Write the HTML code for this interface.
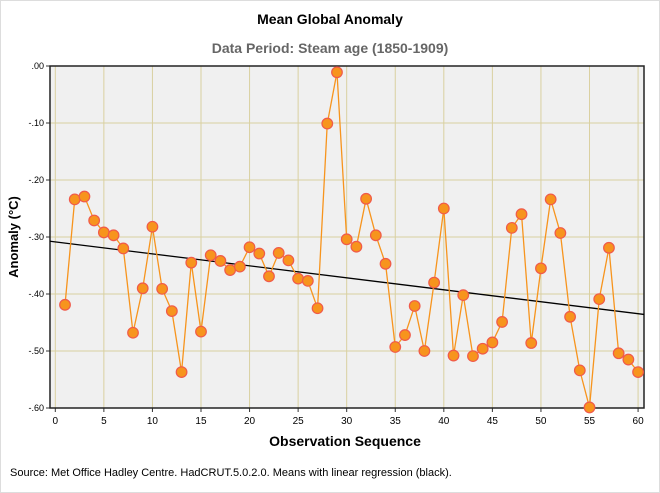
<!DOCTYPE html>
<html><head><meta charset="utf-8"><style>
body{margin:0;background:#fff;font-family:"Liberation Sans",sans-serif;}
svg{display:block}
</style></head><body>
<svg id="c" width="660" height="493">
<rect x="0.5" y="0.5" width="659" height="492" fill="#fff" stroke="#ddd"/>
<text x="330" y="24" text-anchor="middle" font-size="14" font-weight="bold" fill="#000">Mean Global Anomaly</text>
<text x="330" y="53" text-anchor="middle" font-size="14" font-weight="bold" fill="#666">Data Period: Steam age (1850-1909)</text>
<text transform="translate(18,237) rotate(-90)" text-anchor="middle" font-size="13" font-weight="bold">Anomaly (°C)</text>
<text x="345" y="446" text-anchor="middle" font-size="14" font-weight="bold">Observation Sequence</text>
<text x="10" y="476" font-size="11">Source: Met Office Hadley Centre. HadCRUT.5.0.2.0. Means with linear regression (black).</text>
<g id="plot"></g>
</svg>
<script>
const values=[-0.419,-0.234,-0.229,-0.271,-0.292,-0.297,-0.320,-0.468,-0.390,-0.282,-0.391,-0.430,-0.537,-0.345,-0.466,-0.332,-0.342,-0.358,-0.352,-0.318,-0.329,-0.369,-0.328,-0.341,-0.373,-0.377,-0.425,-0.101,-0.011,-0.304,-0.317,-0.233,-0.297,-0.347,-0.493,-0.472,-0.421,-0.500,-0.380,-0.250,-0.508,-0.402,-0.509,-0.496,-0.485,-0.449,-0.284,-0.260,-0.486,-0.355,-0.234,-0.293,-0.440,-0.534,-0.599,-0.409,-0.319,-0.504,-0.515,-0.537];
const yTicks=[0,-0.1,-0.2,-0.3,-0.4,-0.5,-0.6];
const yTickLabels=[".00","-.10","-.20","-.30","-.40","-.50","-.60"];
const xTicks=[0,5,10,15,20,25,30,35,40,45,50,55,60];
const NS="http://www.w3.org/2000/svg";
const L=50,R=644,T=66,B=408;
const xs=v=>55.3+v*9.713;
const ys=v=>T+(-v)/0.6*(B-T);
const g=document.getElementById('plot');
function mk(t,a,p){const e=document.createElementNS(NS,t);for(const k in a)e.setAttribute(k,a[k]);(p||g).appendChild(e);return e;}
const bg=mk('rect',{x:L,y:T,width:R-L,height:B-T,fill:'#f0f0f0'});


yTicks.forEach((t,i)=>{
 const y=ys(t);
 const gl=mk('line',{x1:L,x2:R,y1:y,y2:y,stroke:'#d9d0a0','stroke-width':1});
 
 
 mk('line',{x1:L-4,x2:L,y1:y,y2:y,stroke:'#333'});
 const tx=mk('text',{x:L-6,y:y+3,'text-anchor':'end','font-size':9,fill:'#000'});
 tx.textContent=yTickLabels[i];
 
 
});
xTicks.forEach(t=>{
 const x=xs(t);
 const gl=mk('line',{x1:x,x2:x,y1:T,y2:B,stroke:'#d9d0a0','stroke-width':1});
 
 
 mk('line',{x1:x,x2:x,y1:B,y2:B+4,stroke:'#333'});
 const tx=mk('text',{x:x,y:B+16,'text-anchor':'middle','font-size':10,fill:'#000'});
 tx.textContent=t;
 
 
});
const fr=mk('rect',{x:L,y:T,width:R-L,height:B-T,fill:'none',stroke:'#222','stroke-width':1.5});


// regression
const n=values.length;let sx=0,sy=0,sxx=0,sxy=0;
values.forEach((v,i)=>{const x=i+1;sx+=x;sy+=v;sxx+=x*x;sxy+=x*v;});
const m=(n*sxy-sx*sy)/(n*sxx-sx*sx),b=(sy-m*sx)/n;
const x0=(L-55.3)/9.713,x1=(R-55.3)/9.713;
const reg=mk('line',{x1:L,y1:ys(m*x0+b),x2:R,y2:ys(m*x1+b),stroke:'#000','stroke-width':1.3});


const ln=mk('polyline',{points:values.map((v,i)=>xs(i+1)+','+ys(v)).join(' '),fill:'none',stroke:'#f7941d','stroke-width':1.3});


values.forEach((v,i)=>{
 const c=mk('circle',{cx:xs(i+1),cy:ys(v),r:5.3,fill:'#f7941d',stroke:'#f05a4a','stroke-width':1.2});
 
 
});
</script>
</body></html>
